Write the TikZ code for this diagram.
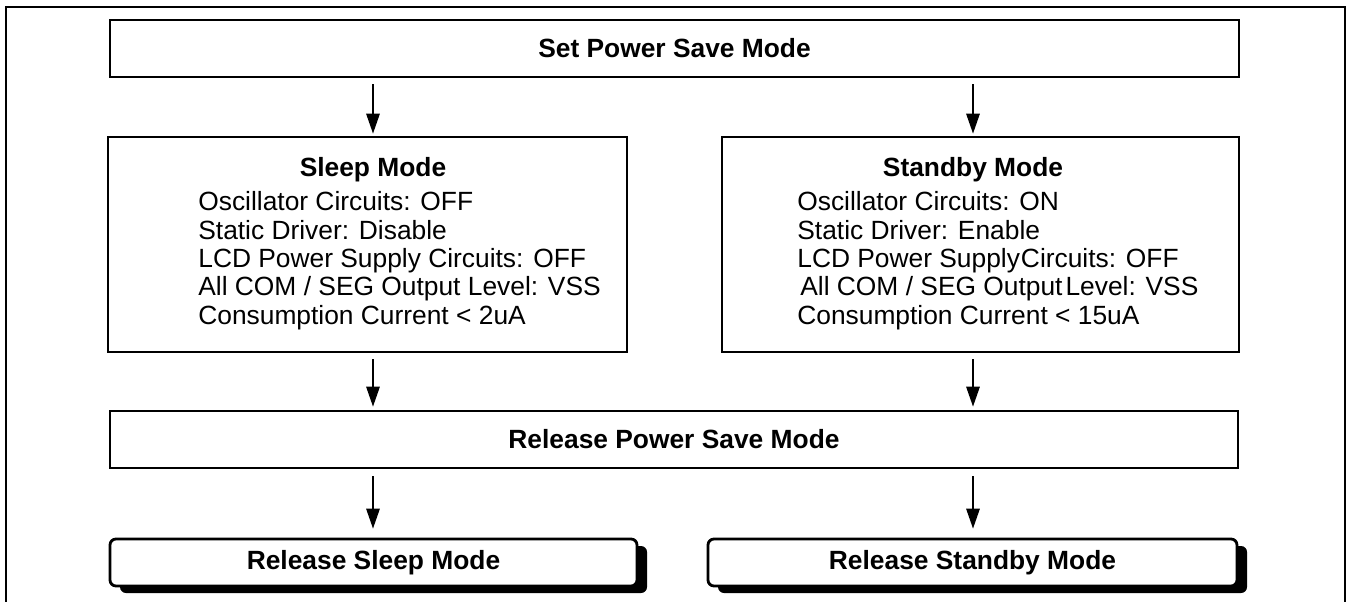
\documentclass[tikz,border=0pt]{standalone}
\usepackage{fontspec}
\setmainfont{Liberation Sans}
\usepackage{tikz}
\usetikzlibrary{arrows.meta}
\usetikzlibrary{shapes.geometric, calc, shadows}

\tikzset{
    boite/.style={draw, line width=1.6pt, inner sep=0pt},
    boiteombre/.style={boite, rounded corners=0.12cm, fill=white,
        drop shadow={shadow xshift=0.2cm, shadow yshift=-0.14cm, fill=black, opacity=1}},
    fleche/.style={line width=0.9pt, -{Triangle[length=0.4cm, width=0.27cm]}},
    cadre/.style={line width=1.6pt},
    titre/.style={font=\fontsize{15}{18}\selectfont\bfseries},
    texte/.style={font=\fontsize{15}{16.1}\selectfont, align=left, inner sep=0pt, anchor=base west},
}

\begin{document}
\begin{tikzpicture}
    \useasboundingbox (0,0) rectangle (26.96,-12.04);

    % Cadre ouvert en bas
    \draw[cadre] (0.12,-12.04) |- (26.9,-0.14) -- (26.9,-12.04);

    % Colonnes des fleches
    \coordinate (gauche) at (7.46,0);
    \coordinate (droite) at (19.46,0);

    % Entree en mode economie
    \node[boite, titre, minimum width=22.58cm, minimum height=1.14cm] (entree) at (13.49,-0.97) {Set Power Save Mode};

    % Mode Sleep (base = derniere ligne)
    \node[boite, minimum width=10.38cm, minimum height=4.3cm] (sleep) at (7.35,-4.89) {};
    \node[titre, anchor=base] (sleeptitre) at (7.46,-3.53) {Sleep Mode};
    \node[texte] (sleeptexte) at (3.96,-6.48) {Oscillator Circuits: OFF\\
        Static Driver: Disable\\
        LCD Power Supply Circuits: OFF\\
        All COM / SEG Output Level: VSS\\
        Consumption Current < 2uA};

    % Mode Standby
    \node[boite, minimum width=10.34cm, minimum height=4.3cm] (standby) at (19.61,-4.89) {};
    \node[titre, anchor=base] (standbytitre) at (19.46,-3.53) {Standby Mode};
    \node[texte] (standbytexte) at (15.94,-6.48) {Oscillator Circuits: ON\\
        Static Driver: Enable\\
        LCD Power Supply\hspace{0.02cm}Circuits: OFF\\
        \hspace{0.06cm}All COM / SEG Output\hspace{0.06cm}Level: VSS\\
        Consumption Current < 15uA};

    % Sortie du mode economie
    \node[boite, titre, minimum width=22.56cm, minimum height=1.14cm] (sortie) at (13.48,-8.79) {Release Power Save Mode};

    % Boites finales avec ombre
    \node[boiteombre, titre, minimum width=10.54cm, minimum height=0.94cm] (finsleep) at (7.47,-11.25) {Release Sleep Mode};
    \node[boiteombre, titre, minimum width=10.58cm, minimum height=0.94cm] (finstandby) at (19.45,-11.25) {Release Standby Mode};

    % Fleches
    \draw[fleche] ($(entree.south -| gauche)+(0,-0.12)$) -- ($(sleep.north -| gauche)+(0,0.04)$);
    \draw[fleche] ($(entree.south -| droite)+(0,-0.12)$) -- ($(standby.north -| droite)+(0,0.04)$);
    \draw[fleche] ($(sleep.south -| gauche)+(0,-0.12)$) -- ($(sortie.north -| gauche)+(0,0.06)$);
    \draw[fleche] ($(standby.south -| droite)+(0,-0.12)$) -- ($(sortie.north -| droite)+(0,0.06)$);
    \draw[fleche] ($(sortie.south -| gauche)+(0,-0.14)$) -- ($(finsleep.north -| gauche)+(0,0.18)$);
    \draw[fleche] ($(sortie.south -| droite)+(0,-0.14)$) -- ($(finstandby.north -| droite)+(0,0.18)$);
\end{tikzpicture}
\end{document}
